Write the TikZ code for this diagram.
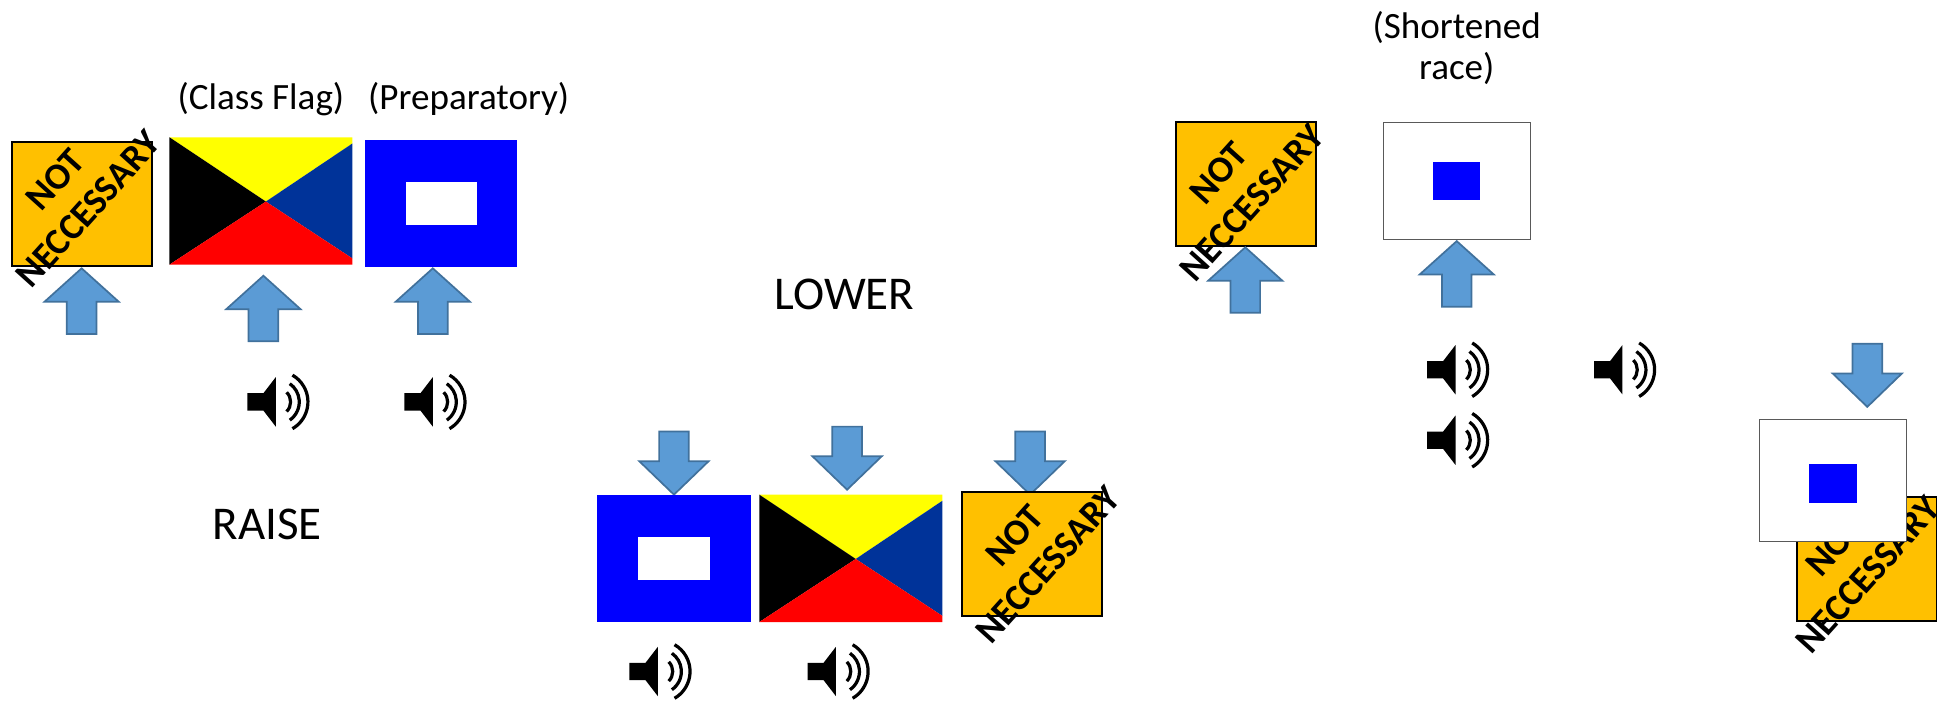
\documentclass[tikz,border=0pt]{standalone}
\usepackage{fontspec}
\setmainfont{Carlito}
\definecolor{arrowfill}{HTML}{5B9BD5}
\definecolor{arrowline}{HTML}{41719C}
\definecolor{amberbox}{HTML}{FFC000}
\definecolor{zetablue}{HTML}{003399}
\definecolor{flagblue}{HTML}{0000FF}
\definecolor{zetayellow}{HTML}{FFFF00}
\definecolor{zetared}{HTML}{FF0000}
\tikzset{
  x=1pt,y=-1pt,
  arrowshape/.style={fill=arrowfill,draw=arrowline,line width=1.4pt,line join=miter},
  label/.style={inner sep=0pt,font=\fontsize{30}{33}\selectfont,align=center},
  biglabel/.style={inner sep=0pt,font=\fontsize{38}{44}\selectfont},
  notbox/.style={fill=amberbox,draw=black,line width=1.5pt},
  nottext/.style={inner sep=0pt,rotate=48,align=center,font=\bfseries\fontsize{30}{36}\selectfont,text=black},
  whitebox/.style={fill=white,draw=black!65,line width=0.9pt},
  pics/uparrow/.style={code={
    \draw[arrowshape] (0,0) -- (30,27) -- (12,27) -- (12,53) -- (-12,53) -- (-12,27) -- (-30,27) -- cycle;}},
  pics/downarrow/.style={code={
    \draw[arrowshape] (0,0) -- (28,-27) -- (12,-27) -- (12,-51) -- (-12,-51) -- (-12,-27) -- (-28,-27) -- cycle;}},
  pics/speaker/.style={code={
    \fill[black] (-24,-7) -- (-11,-7) -- (-1,-20) -- (-1,20) -- (-11,7) -- (-24,7) -- cycle;
    \draw[black,line width=2.6pt] (45:11) arc[start angle=45,end angle=-45,radius=11];
    \draw[black,line width=2.6pt] (55:18) arc[start angle=55,end angle=-55,radius=18];
    \draw[black,line width=2.6pt] (60:25) arc[start angle=60,end angle=-60,radius=25];}},
  pics/zeta/.style={code={
    \fill[zetayellow] (0,0) -- (148,0) -- (148,5) -- (78,52) -- cycle;
    \fill[black] (0,0) -- (78,52) -- (0,103) -- cycle;
    \fill[zetablue] (148,5) -- (148,98) -- (78,52) -- cycle;
    \fill[zetared] (0,103) -- (78,52) -- (148,98) -- (148,103) -- cycle;}},
  pics/pflag/.style={code={
    \fill[flagblue] (0,0) rectangle (124,103);
    \fill[white] (33,34) rectangle (91,69);}},
  pics/notnec/.style 2 args={code={
    \draw[notbox] (0,0) rectangle (113,100);
    \node[nottext] (t) at (#1,#2) {NOT\\NECCESSARY};}}
}
\begin{document}
\begin{tikzpicture}
\useasboundingbox (0,0) rectangle (1568,567);
% Raise group
\pic at (10,115) {notnec={48}{42}};
\pic at (137,111) {zeta};
\begin{scope}[shift={(295,113)}]
  \fill[flagblue] (0,0) rectangle (123,103);
  \fill[white] (33,34) rectangle (91,69);
\end{scope}
\node[label] (classflag) at (211,80) {(Class Flag)};
\node[label] (prep) at (379,80) {(Preparatory)};
\pic at (66,217) {uparrow};
\pic at (213,223) {uparrow};
\pic at (350,217) {uparrow};
\pic at (224,325) {speaker};
\pic at (351,325) {speaker};
\node[biglabel] (raise) at (216,424) {RAISE};
% Lower group
\node[biglabel] (lower) at (683,238) {LOWER};
\pic at (545,400) {downarrow};
\pic at (685,396) {downarrow};
\pic at (833,400) {downarrow};
\pic at (483,400) {pflag};
\pic at (614,400) {zeta};
\pic at (778,398) {notnec={56}{47}};
\pic at (533,543) {speaker};
\pic at (677,543) {speaker};
% Shortened race group
\node[label] (short) at (1178,39) {(Shortened\\race)};
\pic at (951,99) {notnec={48}{53}};
\draw[whitebox] (1119,99) rectangle (1238,194);
\fill[flagblue] (1159,131) rectangle (1197,162);
\pic at (1007,200) {uparrow};
\pic at (1178,195) {uparrow};
\pic at (1178,299) {speaker};
\pic at (1313,299) {speaker};
\pic at (1178,356) {speaker};
% Lower right group
\pic at (1510,329) {downarrow};
\pic at (1453,402) {notnec={44}{51}};
\draw[whitebox] (1423,339) rectangle (1542,438);
\fill[flagblue] (1463,375) rectangle (1502,407);
\end{tikzpicture}
\end{document}
